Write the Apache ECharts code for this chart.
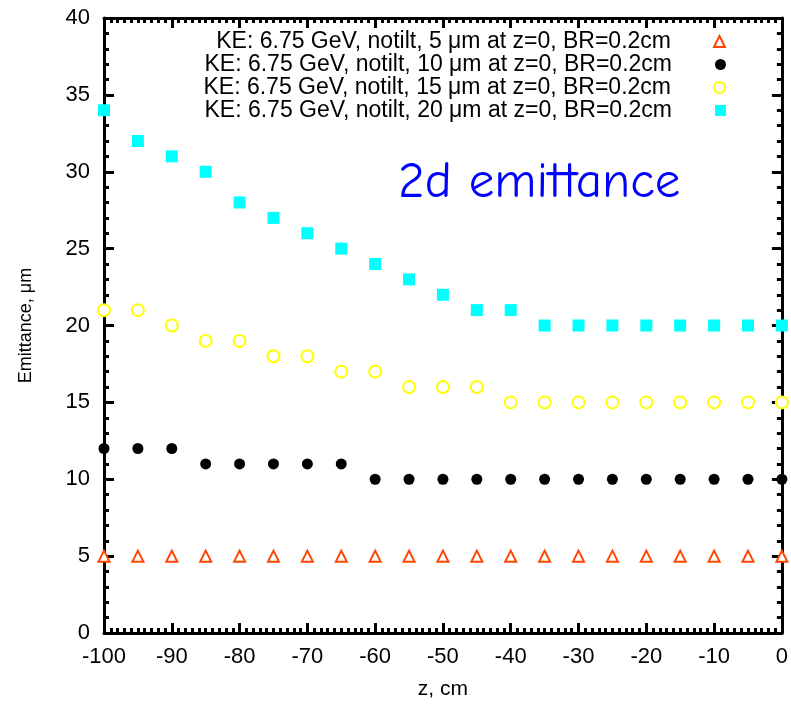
<!DOCTYPE html>
<html><head><meta charset="utf-8">
<script src="https://cdn.jsdelivr.net/npm/echarts@6/dist/echarts.min.js"></script>
<style>html,body{margin:0;padding:0;background:#fff}#c{width:791px;height:705px}</style>
</head><body><div id="c"></div>
<script>
const zValues = [-100,-95,-90,-85,-80,-75,-70,-65,-60,-55,-50,-45,-40,-35,-30,-25,-20,-15,-10,-5,0];
const emit5  = [5,5,5,5,5,5,5,5,5,5,5,5,5,5,5,5,5,5,5,5,5];
const emit10 = [12,12,12,11,11,11,11,11,10,10,10,10,10,10,10,10,10,10,10,10,10];
const emit15 = [21,21,20,19,19,18,18,17,17,16,16,16,15,15,15,15,15,15,15,15,15];
const emit20 = [34,32,31,30,28,27,26,25,24,23,22,21,21,20,20,20,20,20,20,20,20];
const seriesNames = [
  'KE: 6.75 GeV, notilt, 5 \u03bcm at z=0, BR=0.2cm',
  'KE: 6.75 GeV, notilt, 10 \u03bcm at z=0, BR=0.2cm',
  'KE: 6.75 GeV, notilt, 15 \u03bcm at z=0, BR=0.2cm',
  'KE: 6.75 GeV, notilt, 20 \u03bcm at z=0, BR=0.2cm'
];
const xTicks = [-100,-90,-80,-70,-60,-50,-40,-30,-20,-10,0];
const yTicks = [0,5,10,15,20,25,30,35,40];

const FONT = '"Liberation Sans", Arial, sans-serif';
const pair = arr => zValues.map((z,i)=>[z,arr[i]]);
const chart = echarts.init(document.getElementById('c'));

const LINE = {show:true,onZero:false,lineStyle:{color:'#000',width:3}};
const TICK = {show:true,inside:true,length:10,lineStyle:{color:'#000',width:3}};
function xAx(pos, labels){
  return {type:'value',position:pos,min:xTicks[0],max:xTicks[xTicks.length-1],interval:10,
    axisLine:LINE, axisTick:TICK, splitLine:{show:false},
    minorTick:{show:true,splitNumber:10,length:5,lineStyle:{color:'#000',width:3}},
    axisLabel:{show:labels,color:'#000',fontSize:22,fontFamily:FONT,margin:13},
    name: labels?'z, cm':'', nameLocation:'middle', nameGap:46,
    nameTextStyle:{color:'#000',fontSize:21,fontFamily:FONT}};
}
function yAx(pos, labels){
  return {type:'value',position:pos,min:yTicks[0],max:yTicks[yTicks.length-1],interval:5,
    axisLine:LINE, axisTick:TICK, splitLine:{show:false},
    minorTick:{show:true,splitNumber:5,length:5,lineStyle:{color:'#000',width:3}},
    axisLabel:{show:labels,color:'#000',fontSize:22,fontFamily:FONT,margin:14},
    name: labels?'Emittance, \u03bcm':'', nameLocation:'middle', nameGap:69,
    nameTextStyle:{color:'#000',fontSize:18,fontFamily:FONT}};
}
const colors = ['#ff4500','#000000','#ffff00','#00ffff'];
const symbols = ['triangle','circle','circle','rect'];
const sizes = [11,11,12,12];
const hollow = [true,false,true,false];
const datas = [emit5,emit10,emit15,emit20];

const series = datas.map((d,i)=>({
  name: seriesNames[i], type:'scatter', data: pair(d), clip:false,
  symbol: symbols[i], symbolSize: sizes[i],
  itemStyle: hollow[i] ? {color:'#fff',borderColor:colors[i],borderWidth:2,opacity:1} : {color:colors[i],opacity:1},
  z: 5
}));

const legends = seriesNames.map((n,i)=>({
  data:[n], right: 65, top: 30 + i*23, orient:'vertical', align:'right',
  itemWidth:11, itemHeight:11, padding:0, selectedMode:false,
  textStyle:{color:'#000',fontSize:23,fontFamily:FONT,lineHeight:22,padding:[0,38,0,0]}
}));

chart.setOption({
  animation:false,
  backgroundColor:'#fff',
  grid:{left:104,right:8,top:18,bottom:71},
  xAxis:[xAx('bottom',true), xAx('top',false)],
  yAxis:[yAx('left',true), yAx('right',false)],
  legend: legends,
  graphic:[{type:'text',left:398,top:157,style:{text:'2d emittance',fill:'#0000ff',
    font:'51px "Comic Sans MS", "Comic Neue", "DejaVu Sans", sans-serif'}}],
  series: series
});
</script></body></html>
